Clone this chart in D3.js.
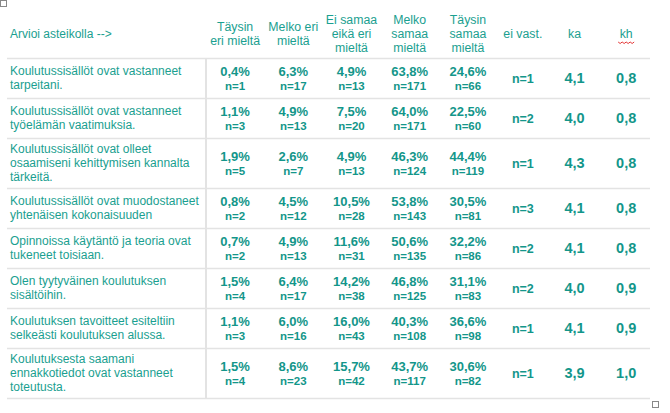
<!DOCTYPE html>
<html><head><meta charset="utf-8">
<script src="https://cdn.jsdelivr.net/npm/d3@7"></script>
<style>
html,body{margin:0;padding:0;background:#fff;}
svg{display:block;font-family:"Liberation Sans",Arial,sans-serif;}
</style></head>
<body>
<svg id="c" width="670" height="413"></svg>
<script>
const headerLabel = "Arvioi asteikolla -->";
const columns = [
  ["Täysin", "eri mieltä"],
  ["Melko eri", "mieltä"],
  ["Ei samaa", "eikä eri", "mieltä"],
  ["Melko", "samaa", "mieltä"],
  ["Täysin", "samaa", "mieltä"]
];
const extraColumns = ["ei vast.", "ka", "kh"];
const statements = [
  ["Koulutussisällöt ovat vastanneet", "tarpeitani."],
  ["Koulutussisällöt ovat vastanneet", "työelämän vaatimuksia."],
  ["Koulutussisällöt ovat olleet", "osaamiseni kehittymisen kannalta", "tärkeitä."],
  ["Koulutussisällöt ovat muodostaneet", "yhtenäisen kokonaisuuden"],
  ["Opinnoissa käytäntö ja teoria ovat", "tukeneet toisiaan."],
  ["Olen tyytyväinen koulutuksen", "sisältöihin."],
  ["Koulutuksen tavoitteet esiteltiin", "selkeästi koulutuksen alussa."],
  ["Koulutuksesta saamani", "ennakkotiedot ovat vastanneet", "toteutusta."]
];
const pctTaysinEri   = [0.4, 1.1, 1.9, 0.8, 0.7, 1.5, 1.1, 1.5];
const nTaysinEri     = [1, 3, 5, 2, 2, 4, 3, 4];
const pctMelkoEri    = [6.3, 4.9, 2.6, 4.5, 4.9, 6.4, 6.0, 8.6];
const nMelkoEri      = [17, 13, 7, 12, 13, 17, 16, 23];
const pctEiSamaa     = [4.9, 7.5, 4.9, 10.5, 11.6, 14.2, 16.0, 15.7];
const nEiSamaa       = [13, 20, 13, 28, 31, 38, 43, 42];
const pctMelkoSamaa  = [63.8, 64.0, 46.3, 53.8, 50.6, 46.8, 40.3, 43.7];
const nMelkoSamaa    = [171, 171, 124, 143, 135, 125, 108, 117];
const pctTaysinSamaa = [24.6, 22.5, 44.4, 30.5, 32.2, 31.1, 36.6, 30.6];
const nTaysinSamaa   = [66, 60, 119, 81, 86, 83, 98, 82];
const eiVast = [1, 2, 1, 3, 2, 2, 1, 1];
const ka = [4.1, 4.0, 4.3, 4.1, 4.1, 4.0, 4.1, 3.9];
const kh = [0.8, 0.8, 0.8, 0.8, 0.8, 0.9, 0.9, 1.0];

const pctSeries = [pctTaysinEri, pctMelkoEri, pctEiSamaa, pctMelkoSamaa, pctTaysinSamaa];
const nSeries = [nTaysinEri, nMelkoEri, nEiSamaa, nMelkoSamaa, nTaysinSamaa];

const labelColor = "#1aa090";
const numColor = "#13968a";
const gridColor = "#e3e3e3";
const fmt1 = v => d3.format(".1f")(v).replace(".", ",");

const svg = d3.select("#c");

// Row layout: units of 10px; each row = lines + 2 units
let acc = 0;
const rows = statements.map((s, i) => {
  const h = s.length + 2;
  const r = {i, top: acc, bottom: acc + h, mid: acc + h / 2};
  acc += h;
  return r;
});
const y = d3.scaleLinear().domain([0, acc]).range([58, 58 + acc * 10]);

const xResp = d3.scaleBand().domain(d3.range(columns.length)).range([206, 497]);
const xExtra = d3.scaleBand().domain(extraColumns).range([497, 652]);
const cxR = i => xResp(i) + xResp.bandwidth() / 2;
const cxE = k => xExtra(k) + xExtra.bandwidth() / 2;

const lineH = 14;
const headerMid = 34;

// grid lines
svg.append("g").selectAll("line").data([0].concat(rows.map(r => r.bottom))).join("line")
  .attr("x1", 7).attr("x2", 650)
  .attr("y1", d => y(d) + 0.5).attr("y2", d => y(d) + 0.5)
  .attr("stroke", gridColor).attr("stroke-width", 1.5);
svg.append("line").attr("x1", 206).attr("x2", 206)
  .attr("y1", y(0)).attr("y2", y(acc))
  .attr("stroke", gridColor).attr("stroke-width", 2);

// header
svg.append("text").attr("x", 10).attr("y", headerMid + 4)
  .attr("fill", labelColor).attr("font-size", 12).text(headerLabel);

const hdr = svg.append("g").attr("fill", labelColor).attr("font-size", 12.3).attr("text-anchor", "middle");
columns.forEach((c, i) => {
  const t = hdr.append("text").attr("x", cxR(i));
  c.forEach((ln, j) => {
    t.append("tspan").attr("x", cxR(i))
      .attr("y", headerMid - (c.length - 1) * lineH / 2 + j * lineH + 4).text(ln);
  });
});
extraColumns.forEach(k => {
  hdr.append("text").attr("x", cxE(k)).attr("y", headerMid + 4).text(k);
});
// spell-check squiggle under "kh"
{
  const x0 = cxE("kh") - 8, x1 = cxE("kh") + 8, yy = headerMid + 8;
  const pts = d3.range(x0, x1 + 0.1, 2).map((x, j) => [x, yy + (j % 2 ? 1.5 : 0)]);
  svg.append("path").attr("d", d3.line()(pts)).attr("fill", "none")
    .attr("stroke", "#e02020").attr("stroke-width", 0.9);
}

// statement labels
const lab = svg.append("g").attr("fill", labelColor).attr("font-size", 12);
rows.forEach(r => {
  const s = statements[r.i];
  const t = lab.append("text");
  s.forEach((ln, j) => {
    t.append("tspan").attr("x", 10)
      .attr("y", y(r.mid) - (s.length - 1) * lineH / 2 + j * lineH + 4).text(ln);
  });
});

// percentage cells
const cells = svg.append("g").attr("fill", numColor).attr("font-weight", "bold").attr("text-anchor", "middle");
pctSeries.forEach((ser, ci) => {
  ser.forEach((v, ri) => {
    const cy = y(rows[ri].mid);
    cells.append("text").attr("x", cxR(ci)).attr("y", cy - 2.5)
      .attr("font-size", 13).text(fmt1(v) + "%");
    cells.append("text").attr("x", cxR(ci)).attr("y", cy + 12)
      .attr("font-size", 11.5).text("n=" + nSeries[ci][ri]);
  });
});
eiVast.forEach((v, ri) => {
  cells.append("text").attr("x", cxE("ei vast.")).attr("y", y(rows[ri].mid) + 4.5)
    .attr("font-size", 12.5).text("n=" + v);
});
ka.forEach((v, ri) => {
  cells.append("text").attr("x", cxE("ka")).attr("y", y(rows[ri].mid) + 5)
    .attr("font-size", 14.5).text(fmt1(v));
});
kh.forEach((v, ri) => {
  cells.append("text").attr("x", cxE("kh")).attr("y", y(rows[ri].mid) + 5)
    .attr("font-size", 14.5).text(fmt1(v));
});

// table handles
svg.append("rect").attr("x", 0.5).attr("y", 0.5).attr("width", 6).attr("height", 6)
  .attr("fill", "#fff").attr("stroke", "#888").attr("stroke-width", 1);
svg.append("rect").attr("x", 652.5).attr("y", y(acc) + 3.5).attr("width", 6).attr("height", 6)
  .attr("fill", "#fff").attr("stroke", "#888").attr("stroke-width", 1);
</script>
</body></html>
